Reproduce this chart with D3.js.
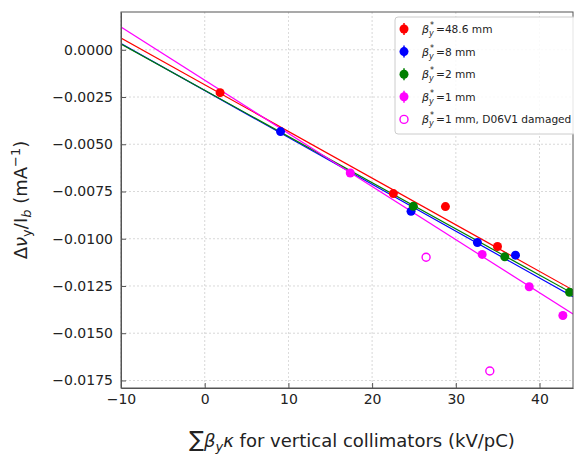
<!DOCTYPE html>
<html>
<head>
<meta charset="utf-8">
<script src="https://cdn.jsdelivr.net/npm/d3@7"></script>
<style>
  body { margin: 0; background: #fff; }
  svg { font-family: "DejaVu Sans", sans-serif; }
</style>
</head>
<body>
<div id="chart"></div>
<script>
// values
const redX = [1.84, 22.54, 28.76, 34.98];
const redY = [-0.00227, -0.00761, -0.0083, -0.01041];
const blueX = [9.06, 24.65, 32.58, 37.13];
const blueY = [-0.00433, -0.00855, -0.0102, -0.01087];
const greenX = [24.93, 35.85, 43.59];
const greenY = [-0.00828, -0.01096, -0.01283];
const magentaX = [17.39, 33.15, 38.77, 42.79];
const magentaY = [-0.00652, -0.01083, -0.01254, -0.01406];
const magentaErr = [0.0001, 0.0001, 0.0001, 0.0002];
const damagedX = [26.45, 34.06];
const damagedY = [-0.01098, -0.0170];

// linear fits: value at x = -10 and slope
const fitNames = ["48.6", "8", "2", "1"];
const fitColors = ["red", "blue", "green", "magenta"];
const fitStart = [0.00062, 0.00033, 0.0003, 0.0012];
const fitSlope = [-0.000247, -0.0002482, -0.0002445, -0.0002812];

const xTicks = [-10, 0, 10, 20, 30, 40];
const yTicks = [0, -0.0025, -0.005, -0.0075, -0.01, -0.0125, -0.015, -0.0175];

const W = 574, H = 455;
const margin = { top: 12, right: 1, bottom: 67, left: 121 };
const width = W - margin.left - margin.right;
const height = H - margin.top - margin.bottom;

const svg = d3.select("#chart").append("svg")
    .attr("width", W)
    .attr("height", H);

const g = svg.append("g")
    .attr("transform", `translate(${margin.left},${margin.top})`);

const x = d3.scaleLinear().domain([-10, 44]).range([0, width]);
const y = d3.scaleLinear().domain([-0.0179, 0.002]).range([height, 0]);

g.append("defs").append("clipPath").attr("id", "clip")
    .append("rect").attr("width", width).attr("height", height);

// grid
g.append("g").selectAll("line").data(xTicks).join("line")
    .attr("x1", d => x(d)).attr("x2", d => x(d))
    .attr("y1", 0).attr("y2", height)
    .attr("stroke", "#b0b0b0").attr("stroke-width", 0.8)
    .attr("stroke-dasharray", "2,2").attr("opacity", 0.6);
g.append("g").selectAll("line").data(yTicks).join("line")
    .attr("y1", d => y(d)).attr("y2", d => y(d))
    .attr("x1", 0).attr("x2", width)
    .attr("stroke", "#b0b0b0").attr("stroke-width", 0.8)
    .attr("stroke-dasharray", "2,2").attr("opacity", 0.6);

// fit lines
const plot = g.append("g").attr("clip-path", "url(#clip)");
fitNames.forEach((n, i) => {
    plot.append("line")
        .attr("x1", x(-10)).attr("y1", y(fitStart[i]))
        .attr("x2", x(44)).attr("y2", y(fitStart[i] + fitSlope[i] * 54))
        .attr("stroke", fitColors[i]).attr("stroke-width", 1.2);
});

function drawPoints(xs, ys, color, filled, errs) {
    const pts = xs.map((v, i) => ({ x: v, y: ys[i], e: errs ? errs[i] : 0.0001 }));
    if (filled) {
        plot.append("g").selectAll("line").data(pts).join("line")
            .attr("x1", d => x(d.x)).attr("x2", d => x(d.x))
            .attr("y1", d => y(d.y + d.e)).attr("y2", d => y(d.y - d.e))
            .attr("stroke", color).attr("stroke-width", 1.5);
    }
    plot.append("g").selectAll("circle").data(pts).join("circle")
        .attr("cx", d => x(d.x)).attr("cy", d => y(d.y))
        .attr("r", filled ? 4.5 : 4)
        .attr("fill", filled ? color : "none")
        .attr("stroke", color).attr("stroke-width", filled ? 0 : 1.4);
}

drawPoints(redX, redY, "red", true);
drawPoints(blueX, blueY, "blue", true);
drawPoints(greenX, greenY, "green", true);
drawPoints(magentaX, magentaY, "magenta", true, magentaErr);
drawPoints(damagedX, damagedY, "magenta", false);

// axes (ticks inward)
const xAxis = g.append("g")
    .attr("transform", `translate(0,${height})`)
    .call(d3.axisBottom(x).tickValues(xTicks).tickSizeInner(-5).tickSizeOuter(0).tickPadding(6)
        .tickFormat(d => d3.format("d")(d).replace("-", "\u2212")));
const yAxis = g.append("g")
    .call(d3.axisLeft(y).tickValues(yTicks).tickSizeInner(-5).tickSizeOuter(0).tickPadding(8)
        .tickFormat(d => d3.format(".4f")(d).replace("-", "\u2212")));
[xAxis, yAxis].forEach(a => {
    a.selectAll("text").attr("font-size", 14).attr("fill", "#222").attr("font-family", "DejaVu Sans");
    a.selectAll("line").attr("stroke", "#555");
    a.select(".domain").attr("stroke", "#555");
});

// frame
g.append("rect").attr("width", width).attr("height", height)
    .attr("fill", "none").attr("stroke", "#555").attr("stroke-width", 1);

// legend
const legend = g.append("g").attr("transform", `translate(${395 - margin.left},${17 - margin.top})`);
legend.append("rect")
    .attr("width", 190).attr("height", 117).attr("rx", 3)
    .attr("fill", "white").attr("fill-opacity", 0.85)
    .attr("stroke", "#ccc");
const legendItems = fitNames.map((n, i) => ({ label: `=${n} mm`, color: fitColors[i], filled: true }));
legendItems.push({ label: "=1 mm, D06V1 damaged", color: "magenta", filled: false });
legendItems.forEach((d, i) => {
    const row = legend.append("g").attr("transform", `translate(0,${12 + i * 22.6})`);
    if (d.filled) {
        row.append("line").attr("x1", 9).attr("x2", 9).attr("y1", -6).attr("y2", 6)
            .attr("stroke", d.color).attr("stroke-width", 1.5);
        row.append("circle").attr("cx", 9).attr("cy", 0).attr("r", 4.5).attr("fill", d.color);
    } else {
        row.append("circle").attr("cx", 9).attr("cy", 0).attr("r", 4)
            .attr("fill", "none").attr("stroke", d.color).attr("stroke-width", 1.4);
    }
    const sym = row.append("text").attr("x", 27).attr("y", 4).attr("font-size", 11).attr("fill", "#222");
    sym.append("tspan").attr("font-style", "italic").text("\u03B2");
    row.append("text").attr("x", 35).attr("y", -1).attr("font-size", 8).attr("fill", "#222").text("*");
    row.append("text").attr("x", 34).attr("y", 7).attr("font-size", 8).attr("font-style", "italic")
        .attr("fill", "#222").text("y");
    row.append("text").attr("x", 41).attr("y", 4).attr("font-size", 10.6).attr("fill", "#222")
        .text(d.label);
});

// axis labels
const xl = svg.append("text")
    .attr("x", 352).attr("y", 447)
    .attr("text-anchor", "middle").attr("font-size", 18).attr("fill", "#222");
xl.append("tspan").attr("font-size", 22).text("\u2211");
xl.append("tspan").attr("font-style", "italic").text("\u03B2");
xl.append("tspan").attr("font-style", "italic").attr("font-size", 13).attr("dy", 4).text("y");
xl.append("tspan").attr("font-style", "italic").attr("dy", -4).text("\u03BA");
xl.append("tspan").text(" for vertical collimators (kV/pC)");

const yl = svg.append("text")
    .attr("transform", "translate(27,200) rotate(-90)")
    .attr("text-anchor", "middle").attr("font-size", 18).attr("fill", "#222");
yl.append("tspan").text("\u0394");
yl.append("tspan").attr("font-style", "italic").text("\u03BD");
yl.append("tspan").attr("font-size", 13).attr("dy", 4).text("y");
yl.append("tspan").attr("dy", -4).text("/I");
yl.append("tspan").attr("font-size", 13).attr("font-style", "italic").attr("dy", 4).text("b");
yl.append("tspan").attr("dy", -4).text(" (mA");
yl.append("tspan").attr("font-size", 13).attr("dy", -7).text("\u22121");
yl.append("tspan").attr("dy", 7).text(")");
</script>
</body>
</html>
